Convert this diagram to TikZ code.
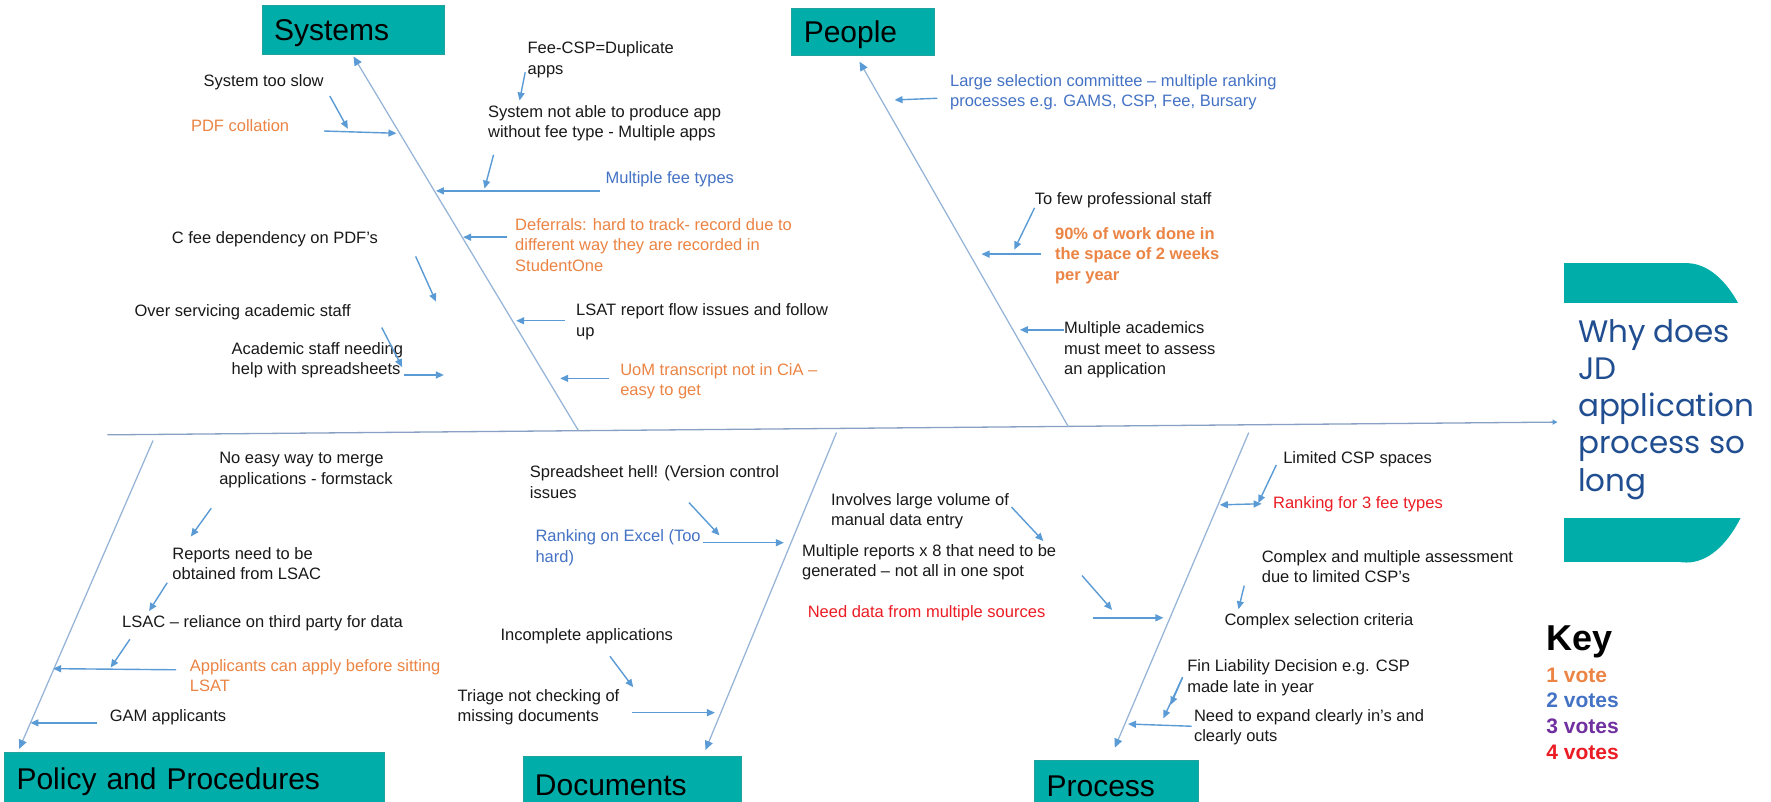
\documentclass[tikz,border=0pt]{standalone}
\usepackage{fontspec}
\setmainfont{Liberation Sans}
\newfontfamily\headfont{Poppins}
\usetikzlibrary{arrows.meta}
\definecolor{teal1}{RGB}{0,173,168}
\definecolor{arrcol}{RGB}{91,155,213}
\definecolor{bonecol}{RGB}{150,180,215}
\definecolor{spinecol}{RGB}{135,160,195}
\definecolor{orng}{RGB}{235,132,68}
\definecolor{blu}{RGB}{68,114,196}
\definecolor{rd}{RGB}{235,28,36}
\definecolor{purp}{RGB}{112,48,160}
\definecolor{headblue}{RGB}{32,78,145}
\definecolor{txtblack}{RGB}{25,25,25}
\newcommand\lnk[4][arr]{\coordinate (#2a) at (#3); \coordinate (#2b) at (#4); \draw[#1] (#2a) -- (#2b);}
\begin{document}
\begin{tikzpicture}[x=1.1295pt,y=-1.1295pt,
  txt/.style={anchor=west, align=left, inner sep=0pt, font=\fontsize{16.5}{20.5}\selectfont, text=txtblack},
  otxt/.style={txt, text=orng},
  btxt/.style={txt, text=blu},
  rtxt/.style={txt, text=rd},
  cat/.style={fill=teal1, draw=teal1!75!gray, line width=0.6pt, align=left, inner xsep=12pt, inner ysep=0pt, text depth=0pt, font=\fontsize{30}{36}\selectfont, text=black},
  bone/.style={draw=bonecol, line width=1.25pt, -{Triangle[length=9pt,width=8pt,color=arrcol]}},
  spine/.style={draw=spinecol, line width=1.3pt, -{Triangle[length=5pt,width=5pt,color=arrcol]}},
  arr/.style={draw=arrcol, line width=1.4pt, -{Triangle[length=8pt,width=7pt]}},
  darr/.style={draw=arrcol, line width=1.4pt, {Triangle[length=8pt,width=7pt]}-{Triangle[length=8pt,width=7pt]}},
]
\clip (0,0) rectangle (1568,710);
\fill[white] (0,0) rectangle (1568,710);

% ---- head ----
\fill[teal1] (1385,233) rectangle (1493,498);
\fill[teal1] (1493,365.5) ellipse [x radius=76.2pt, y radius=149.7pt];
\fill[white] (1380,268.5) rectangle (1568,458.7);
\node[anchor=west, align=left, inner sep=0pt, text=headblue, font=\headfont\fontsize{31}{37.3}\selectfont] (head) at (1397,362.4) {Why does\\JD\\application\\process so\\long};

% ---- spine ----
\coordinate (spL) at (95,385);
\coordinate (spR) at (1379,373.7);
\draw[spine] (spL) -- (spR);

% ---- category boxes ----
\node[cat, minimum width=181.9pt, minimum height=49.1pt, text width=157.9pt] (systems) at (312.5,26.25) {Systems};
\node[cat, minimum width=142.3pt, minimum height=47.4pt, text width=118.3pt] (people) at (764,28) {People};
\node[cat, minimum width=379.5pt, minimum height=52pt, text width=355.5pt] (policy) at (172,689) {Policy and Procedures};
\node[cat, minimum width=218pt, minimum height=56.5pt, text width=194pt] (documents) at (559.5,695) {Documents};
\node[cat, minimum width=163.8pt, minimum height=52pt, text width=139.8pt] (process) at (988.5,696) {Process};

% ---- bones ----
\coordinate (sysR) at (512,381);   \coordinate (sysT) at (313,50);
\coordinate (peoR) at (946,378);   \coordinate (peoT) at (761,54.6);
\coordinate (polR) at (135.5,390); \coordinate (polT) at (17,663);
\coordinate (docR) at (740.6,383); \coordinate (docT) at (624.6,664);
\coordinate (proR) at (1105.6,383);\coordinate (proT) at (987,662);
\draw[bone] (sysR) -- (sysT);
\draw[bone] (peoR) -- (peoT);
\draw[bone] (polR) -- (polT);
\draw[bone] (docR) -- (docT);
\draw[bone] (proR) -- (proT);

% ---- Systems ----
\node[txt] (feecsp) at (467,53) {Fee-CSP=Duplicate\\apps};
\node[txt] (slow) at (180,73) {System too slow};
\node[otxt] (pdf) at (169,111) {PDF collation};
\node[txt] (notable) at (432,109) {System not able to produce app\\without fee type - Multiple apps};
\node[btxt] (feetypes) at (536,159) {Multiple fee types};
\node[otxt] (defer) at (456,216.7) {Deferrals: hard to track- record due to\\different way they are recorded in\\StudentOne};
\node[txt] (cfee) at (152,212) {C fee dependency on PDF’s};
\node[txt] (lsatflow) at (510,285) {LSAT report flow issues and follow\\up};
\node[txt] (overserv) at (119,276) {Over servicing academic staff};
\node[txt] (acad) at (205,319) {Academic staff needing\\help with spreadsheets};
\node[otxt] (uom) at (549,337.5) {UoM transcript not in CiA –\\easy to get};

\lnk{s1}{292,85}{308,114}
\lnk{s2}{287,116}{351,118}
\lnk{s3}{465,64}{460,89}
\lnk{s4}{437,137}{429,167}
\lnk{s5}{531,169}{386,169}
\lnk{s6}{449,210}{410,210}
\lnk{s7}{368,227}{386,267}
\lnk{s8}{500,284}{457,284}
\lnk{s9}{338,290}{356,325}
\lnk{s10}{358,332}{393,332}
\lnk{s11}{539,335}{496,335}

% ---- People ----
\node[btxt] (commit) at (841,81.5) {Large selection committee – multiple ranking\\processes e.g. GAMS, CSP, Fee, Bursary};
\node[txt] (tofew) at (916,177) {To few professional staff};
\node[otxt, font=\bfseries\fontsize{16.5}{20.5}\selectfont] (ninety) at (934,226) {90\% of work done in\\the space of 2 weeks\\per year};
\node[txt] (multacad) at (942,309.7) {Multiple academics\\must meet to assess\\an application};

\lnk{p1}{830,87}{792,88.5}
\lnk{p2}{916,184}{898,221}
\lnk{p3}{922,225}{869,225}
\lnk{p4}{942,292}{903,292}

% ---- Policy and Procedures ----
\node[txt] (merge) at (194,416) {No easy way to merge\\applications - formstack};
\node[txt] (reports) at (152.5,498.8) {Reports need to be\\obtained from LSAC};
\node[txt] (lsac) at (108,551.6) {LSAC – reliance on third party for data};
\node[otxt] (before) at (168,598) {Applicants can apply before sitting\\LSAT};
\node[txt] (gam) at (97,635) {GAM applicants};

\lnk{q1}{187,450}{169,475}
\lnk{q2}{148,516}{132,541}
\lnk{q3}{115,566}{98,591}
\lnk{q4}{156,593}{47,592}
\lnk{q5}{86,640}{27,640}

% ---- Documents ----
\node[txt] (hell) at (469,427) {Spreadsheet hell! (Version control\\issues};
\node[btxt] (excel) at (474,485) {Ranking on Excel (Too\\hard)};
\node[txt] (incomp) at (443,563) {Incomplete applications};
\node[txt] (triage) at (405,626) {Triage not checking of\\missing documents};

\lnk{d1}{610,445}{637,474}
\lnk{d2}{622,480.5}{694,480.5}
\lnk{d3}{540,581}{560.6,608.5}
\lnk{d4}{559.5,631}{633,631}

% ---- Process ----
\node[txt] (involves) at (735.6,452.5) {Involves large volume of\\manual data entry};
\node[txt] (multrep) at (710,497.8) {Multiple reports x 8 that need to be\\generated – not all in one spot};
\node[rtxt] (needdata) at (715,543) {Need data from multiple sources};
\node[txt] (limited) at (1136,407) {Limited CSP spaces};
\node[rtxt] (rank3) at (1127,446) {Ranking for 3 fee types};
\node[txt] (cmplx) at (1117,501.5) {Complex and multiple assessment\\due to limited CSP’s};
\node[txt] (crit) at (1084,550) {Complex selection criteria};
\node[txt] (fin) at (1051,600) {Fin Liability Decision e.g. CSP\\made late in year};
\node[txt] (expand) at (1057,644) {Need to expand clearly in’s and\\clearly outs};

\lnk{r1}{895.6,449}{923.7,479}
\lnk{r2}{958,509.6}{984.6,540}
\lnk{r3}{967.7,547}{1030,547}
\lnk{r4}{1130,411.7}{1114,445.4}
\lnk[darr]{r5}{1117,446}{1080,447}
\lnk{r6}{1101.6,518.5}{1096.5,539.4}
\lnk{r7}{1047,599.7}{1036.5,624}
\lnk{r8}{1047,599.7}{1030,636}
\lnk{r9}{1055,643}{998.7,641}

% ---- Key ----
\node[anchor=west, inner sep=0pt, font=\bfseries\fontsize{36}{40}\selectfont] (key) at (1369,568) {Key};
\node[anchor=west, align=left, inner sep=0pt, font=\bfseries\fontsize{21}{25.6}\selectfont] (votes) at (1369,631.75) {\textcolor{orng}{1 vote}\\\textcolor{blu}{2 votes}\\\textcolor{purp}{3 votes}\\\textcolor{rd}{4 votes}};
\end{tikzpicture}
\end{document}
